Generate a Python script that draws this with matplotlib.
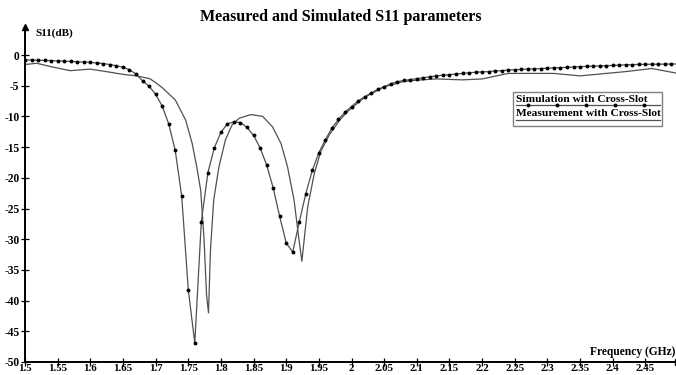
import numpy as np
import matplotlib
matplotlib.use("Agg")
import matplotlib.pyplot as plt
from matplotlib.patches import Rectangle
from matplotlib.lines import Line2D

plt.rcParams['font.family'] = ['Liberation Serif', 'DejaVu Serif']
plt.rcParams['font.weight'] = 'bold'

title = "Measured and Simulated S11 parameters"
x_label = "Frequency (GHz)"
y_label = "S11(dB)"
legend_labels = ["Simulation with Cross-Slot", "Measurement with Cross-Slot"]

x_ticks = [1.5, 1.55, 1.6, 1.65, 1.7, 1.75, 1.8, 1.85, 1.9, 1.95, 2.0,
           2.05, 2.1, 2.15, 2.2, 2.25, 2.3, 2.35, 2.4, 2.45]
x_tick_labels = ["1.5", "1.55", "1.6", "1.65", "1.7", "1.75", "1.8", "1.85", "1.9", "1.95", "2",
                 "2.05", "2.1", "2.15", "2.2", "2.25", "2.3", "2.35", "2.4", "2.45"]
y_ticks = [0, -5, -10, -15, -20, -25, -30, -35, -40, -45, -50]
y_tick_labels = ["0", "-5", "-10", "-15", "-20", "-25", "-30", "-35", "-40", "-45", "-50"]

# Simulation (with markers), 0.01 GHz steps from 1.50 to 2.50
sim_freq = np.round(np.arange(1.50, 2.5001, 0.01), 2)
sim_s11 = [
    -0.80, -0.82, -0.85, -0.88, -0.92, -0.96, -1.00, -1.05, -1.10, -1.15,   # 1.50-1.59
    -1.20, -1.30, -1.40, -1.55, -1.75, -2.00, -2.40, -3.10, -4.20, -5.10,   # 1.60-1.69
    -6.40, -8.30, -11.2, -15.5, -23.0, -38.2, -46.9, -27.2, -19.2, -15.1,   # 1.70-1.79
    -12.6, -11.2, -10.9, -11.0, -11.8, -13.1, -15.1, -17.9, -21.6, -26.3,   # 1.80-1.89
    -30.6, -32.1, -27.2, -22.6, -18.8, -15.9, -13.8, -11.9, -10.5, -9.30,   # 1.90-1.99
    -8.40, -7.50, -6.80, -6.20, -5.60, -5.15, -4.70, -4.35, -4.15, -4.00,   # 2.00-2.09
    -3.85, -3.70, -3.55, -3.40, -3.30, -3.20, -3.10, -3.00, -2.90, -2.80,   # 2.10-2.19
    -2.75, -2.70, -2.60, -2.55, -2.45, -2.40, -2.35, -2.30, -2.25, -2.20,   # 2.20-2.29
    -2.15, -2.10, -2.05, -2.00, -1.95, -1.90, -1.85, -1.82, -1.78, -1.74,   # 2.30-2.39
    -1.70, -1.65, -1.60, -1.57, -1.54, -1.52, -1.50, -1.50, -1.48, -1.47,   # 2.40-2.49
    -1.46,                                                                  # 2.50
]

# Measurement (plain line)
meas_freq = [1.500, 1.518, 1.540, 1.569, 1.600, 1.630, 1.650, 1.671, 1.691, 1.700,
             1.710, 1.730, 1.746, 1.756, 1.763, 1.769, 1.774, 1.778, 1.781, 1.784,
             1.789, 1.797, 1.807, 1.817, 1.828, 1.846, 1.864, 1.879, 1.892, 1.902,
             1.912, 1.919, 1.924, 1.928, 1.933, 1.943, 1.953, 1.966, 1.982, 1.994,
             2.020, 2.050, 2.080, 2.100, 2.130, 2.170, 2.200, 2.240, 2.280, 2.310,
             2.350, 2.390, 2.420, 2.460, 2.500]
meas_s11 = [-1.55, -1.35, -1.90, -2.55, -2.30, -2.80, -3.15, -3.40, -3.85, -4.50,
            -5.30, -7.30, -10.6, -14.4, -18.2, -22.0, -29.6, -39.0, -42.0, -31.8,
            -23.6, -18.2, -13.8, -11.4, -10.3, -9.70, -10.0, -11.7, -14.4, -18.2,
            -23.6, -29.6, -33.6, -29.6, -24.7, -19.3, -15.7, -13.0, -10.6, -9.20,
            -6.90, -5.20, -4.30, -4.10, -3.90, -4.05, -3.90, -3.00, -3.00, -3.00,
            -3.40, -3.00, -2.70, -2.20, -3.00]

W, H = 676, 375
fig = plt.figure(figsize=(W / 100, H / 100), dpi=100)
fig.patch.set_facecolor('white')

# axes: x 1.5 at px 25, 2.5 at px ~678; y 0 at px 55, -50 at px 362
ymax = 4.6
x0, x1 = 25, 678
ybot, ytop = 362, 55 - ymax * (307 / 50)
ax = fig.add_axes([x0 / W, (H - ybot) / H, (x1 - x0) / W, (ybot - ytop) / H])
ax.set_xlim(1.5, 2.5)
ax.set_ylim(-50, ymax)

line_col = '#505050'
ax.plot(meas_freq, meas_s11, color=line_col, lw=0.9, zorder=2)
ax.plot(sim_freq, sim_s11, color=line_col, lw=0.9, marker='o', markersize=1.8,
        markerfacecolor='black', markeredgecolor='black', zorder=3)

for s in ['top', 'right']:
    ax.spines[s].set_visible(False)
for s in ['left', 'bottom']:
    ax.spines[s].set_linewidth(1.4)
    ax.spines[s].set_color('black')

ax.set_xticks(x_ticks)
ax.set_xticklabels(x_tick_labels, fontsize=7.8, fontweight='bold')
ax.set_yticks(y_ticks)
ax.set_yticklabels(y_tick_labels, fontsize=8.3, fontweight='bold')
ax.tick_params(axis='both', direction='inout', length=6, width=0.9, colors='black')
ax.tick_params(axis='x', pad=-1.5)
ax.tick_params(axis='y', pad=1)

# arrowheads on axes
ax.plot(0, 1, marker='^', color='black', markersize=4, transform=ax.transAxes, clip_on=False)
ax.plot(1, 0, marker='>', color='black', markersize=4, transform=ax.transAxes, clip_on=False)

# overlay in pixel coordinates for text / legend
ov = fig.add_axes([0, 0, 1, 1], facecolor='none')
ov.set_xlim(0, W)
ov.set_ylim(H, 0)
ov.axis('off')

ov.text(341, 17, title, ha='center', va='center', fontsize=11.5, fontweight='bold')
ov.text(35, 33, y_label, ha='left', va='center', fontsize=8, fontweight='bold')
ov.text(675, 352, x_label, ha='right', va='center', fontsize=8.3, fontweight='bold')

# legend box
ov.add_patch(Rectangle((513, 92), 149, 34, fill=False, edgecolor='#808080', lw=1.0))
ov.text(516, 99, legend_labels[0], ha='left', va='center', fontsize=8.2, fontweight='bold')
ov.add_line(Line2D([516, 660], [105, 105], color=line_col, lw=0.9))
ov.plot([528, 557, 586, 615, 644], [105] * 5, linestyle='none', marker='o',
        markersize=1.8, color='black')
ov.text(516, 113, legend_labels[1], ha='left', va='center', fontsize=8.2, fontweight='bold')
ov.add_line(Line2D([516, 660], [120, 120], color=line_col, lw=0.9))

fig.savefig('out.png', dpi=100)
